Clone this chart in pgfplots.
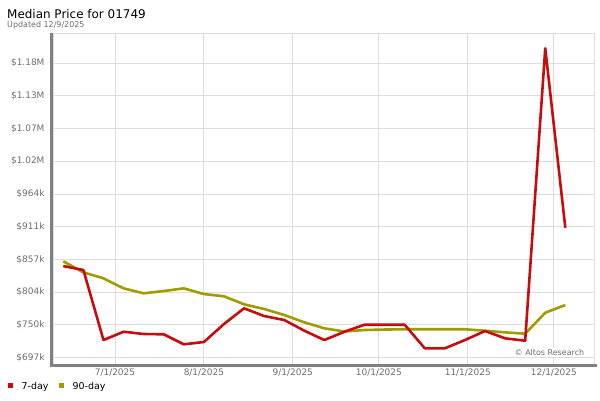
\documentclass[border=0pt]{standalone}
\usepackage{pgfplots}
\pgfplotsset{compat=1.18}
\usepackage{fontspec}
\setmainfont{DejaVu Sans}
\definecolor{redline}{RGB}{200,12,12}
\definecolor{oliveline}{RGB}{160,156,0}
\definecolor{gridc}{RGB}{221,221,221}
\definecolor{axc}{RGB}{128,128,128}
\definecolor{labc}{RGB}{110,110,110}
\begin{document}
\begin{tikzpicture}[x=1bp,y=1bp]
\useasboundingbox (0,0) rectangle (600,400);
\node[anchor=base west,inner sep=0pt,font=\fontsize{12}{14}\selectfont] at (7,382) {Median Price for 01749};
\node[anchor=base west,inner sep=0pt,font=\fontsize{8}{9}\selectfont,text=labc] at (7,373) {Updated 12/9/2025};
\begin{axis}[
  at={(53bp,36bp)}, anchor=south west,
  scale only axis, width=541bp, height=331bp,
  xmin=-21.6, xmax=167, ymin=686.1, ymax=1227.8,
  axis line style={gridc},
  grid=major, major grid style={gridc, line width=0.8bp},
  xtick={0,31,62,92,123,153},
  xticklabels={7/1/2025,8/1/2025,9/1/2025,10/1/2025,11/1/2025,12/1/2025},
  ytick={696.7,750.25,803.8,857.35,910.9,964.45,1018,1071.55,1125.1,1178.65},
  yticklabels={\$697k,\$750k,\$804k,\$857k,\$911k,\$964k,\$1.02M,\$1.07M,\$1.13M,\$1.18M},
  tick style={draw=none},
  ticklabel style={font=\fontsize{9}{10}\selectfont, text=labc},
  yticklabel style={xshift=-5bp},
  xticklabel style={yshift=-1.5bp},
  /pgf/number format/assume math mode=true,
  clip=false,
]
\addplot[oliveline, line width=2.6bp, line join=round] coordinates {
(-18,854.1) (-11,836.1) (-4,826.3) (3,809.9) (10,801.8) (17,805.5) (24,809.9) (31,800.6) (38,796.9) (45,783.8) (52,776.1) (59,766.3) (66,754.3) (73,744.5) (80,739.3) (87,741.7) (94,742.5) (101,742.9) (108,742.9) (115,742.9) (122,742.9) (129,740.6) (136,737.9) (143,735.7) (150,770.0) (157,782.6)
};
\addplot[redline, line width=2.6bp, line join=round] coordinates {
(-18,846.4) (-11,839.9) (-4,725.3) (3,738.9) (10,735.2) (17,734.7) (24,718.3) (31,722.1) (38,751.5) (45,777.2) (52,764.6) (59,758.1) (66,740.6) (73,725.3) (80,738.9) (87,750.4) (94,750.4) (101,750.4) (108,711.8) (115,711.8) (122,725.3) (129,740.1) (136,728.1) (143,724.2) (150,1202.7) (157,909.1)
};
\node[anchor=base east, fill=white, inner sep=1.5bp, text=labc, font=\fontsize{8}{9}\selectfont] at (rel axis cs:0.985,0.025) {© Altos Research};
\draw[axc, line width=3bp] (rel axis cs:-0.003,1) -- (rel axis cs:-0.003,-0.005) -- (rel axis cs:1.006,-0.005);
\end{axis}
\fill[redline] (8,12) rectangle (13,17);
\node[anchor=base west, inner sep=0pt, font=\fontsize{9.5}{11}\selectfont] at (21.5,10.5) {7-day};
\fill[oliveline] (58.7,12) rectangle (64.3,17);
\node[anchor=base west, inner sep=0pt, font=\fontsize{9.5}{11}\selectfont] at (72.5,10.5) {90-day};
\end{tikzpicture}
\end{document}
